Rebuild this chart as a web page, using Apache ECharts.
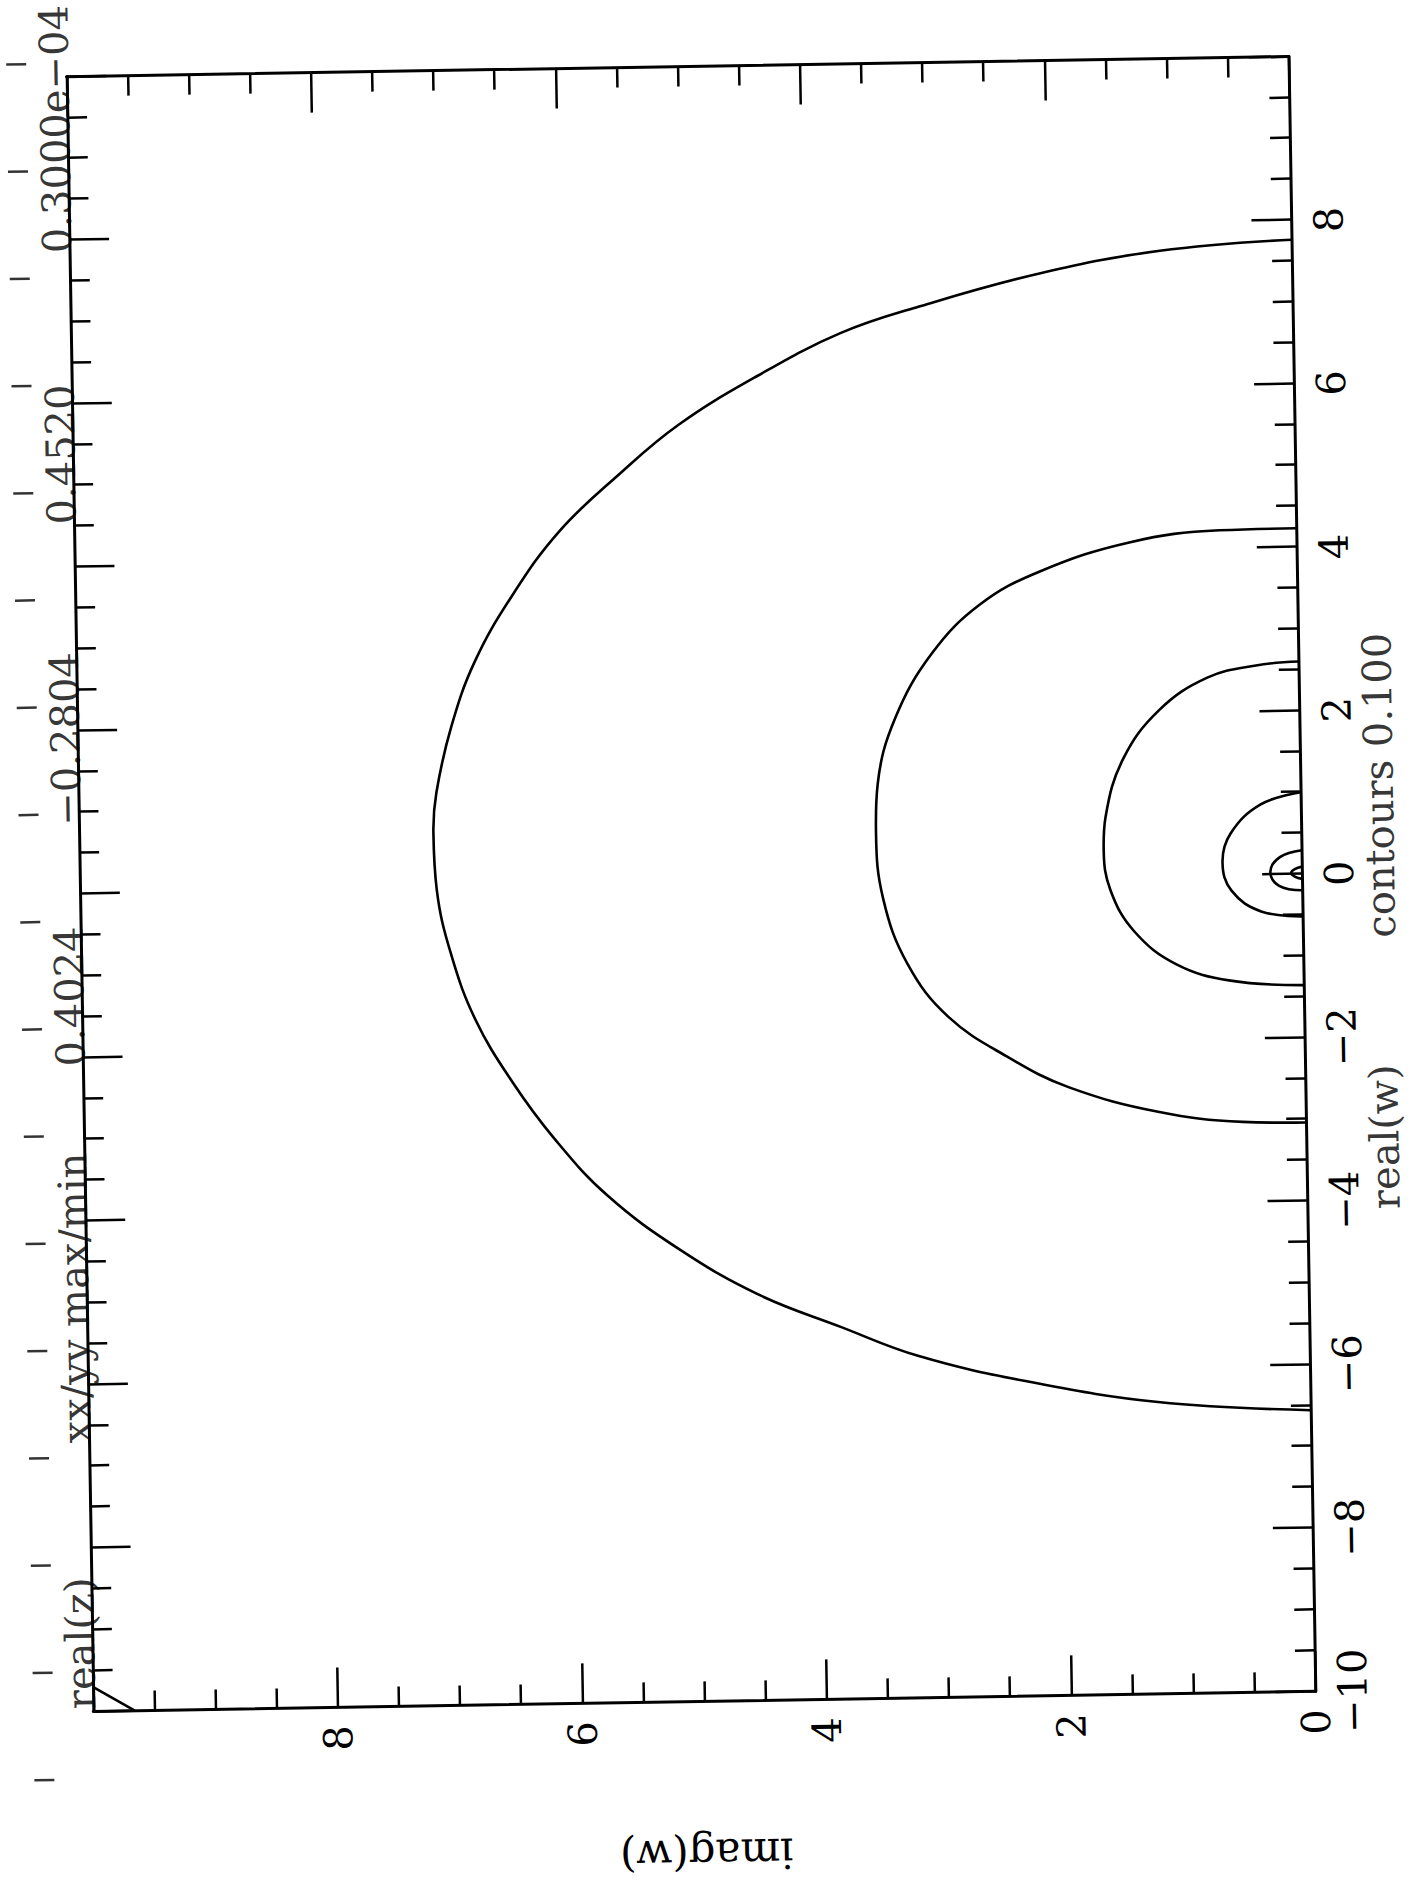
<!DOCTYPE html>
<html>
<head>
<meta charset="utf-8">
<script src="https://cdn.jsdelivr.net/npm/echarts@6/dist/echarts.min.js"></script>
<style>
html,body{margin:0;padding:0;width:1416px;height:1881px;overflow:hidden;background:#fff;}
#chart{position:absolute;width:2000px;height:1600px;left:-308.75px;top:84px;transform-origin:1000px 800px;transform:rotate(-90.94deg);}
</style>
</head>
<body>
<div id="chart"></div>
<script>
// ---------- data (real(w), imag(w)) ----------
const realTickValues = [-10, -8, -6, -4, -2, 0, 2, 4, 6, 8];
const realTickLabels = ['\u221210', '\u22128', '\u22126', '\u22124', '\u22122', '0', '2', '4', '6', '8'];
const imagTickValues = [0, 2, 4, 6, 8];
const imagTickLabels = ['0', '2', '4', '6', '8'];

const contourA = [[7.76,0],[7.65,1.08],[7.40,2.06],[7.02,3.05],[6.71,3.70],[6.20,4.39],[5.62,5.04],[5.03,5.53],[4.34,6.03],[3.55,6.43],[2.76,6.74],[1.97,6.94],[1.17,7.07],[0.68,7.10],[-0.02,7.08],[-0.82,6.97],[-1.62,6.78],[-2.38,6.49],[-3.09,6.15],[-3.80,5.72],[-4.47,5.14],[-5.03,4.51],[-5.45,3.83],[-5.82,3.20],[-6.15,2.32],[-6.43,1.25],[-6.56,0]];
const contourB = [[4.23,0],[4.22,0.63],[4.09,1.37],[3.75,2.11],[3.36,2.60],[2.77,3.00],[1.98,3.31],[1.18,3.46],[0.59,3.48],[-0.22,3.43],[-1.02,3.24],[-1.68,2.91],[-2.19,2.42],[-2.56,1.94],[-2.88,1.21],[-3.02,0.52],[-3.04,0]];
const contourC = [[2.60,0],[2.56,0.35],[2.42,0.75],[2.03,1.15],[1.44,1.45],[0.74,1.60],[0.34,1.62],[-0.16,1.57],[-0.67,1.38],[-1.08,1.04],[-1.29,0.60],[-1.36,0]];
const contourD = [[1.00,0],[0.86,0.33],[0.51,0.58],[0.16,0.65],[-0.19,0.58],[-0.45,0.34],[-0.52,0]];
const contourE = [[0.29,0],[0.21,0.18],[0.03,0.26],[-0.14,0.19],[-0.20,0]];
const contourF = [[0.09,0],[0.06,0.06],[0.015,0.09],[-0.03,0.06],[-0.06,0]];
const cornerLine = [[-9.70,10],[-10,9.66]];

const headerTexts = ['real(z)', 'xx/yy max/min', '0.4024', '\u22120.2804', '0.4520', '0.3000e\u221204'];
const headerAt = [-9.97, -4.94, -1.25, 1.90, 5.38, 9.36];
const footerTexts = ['real(w)', 'contours 0.100'];
const footerAt = [-3.23, 1.07];

// outer row of short marks above the frame (index along their own scale)
const zMarks = [0, 1, 2, 3, 4, 5, 6, 7, 8, 9, 10, 11, 12, 13, 14, 15, 16];
const zRange = [-10.83, 10.16];  // span of the outer marks in real(w) units

// ---------- layout ----------
const FONT = 'DejaVu Serif';
const realMin = -10, realMax = 10, imagMin = 0, imagMax = 10;
const gridL = 182.5, gridR = 182.5, gridT = 188.75, gridB = 188.75;
const plotW = 2000 - gridL - gridR;
const pxPerUnit = plotW / (realMax - realMin);
const grid2L = gridL + (zRange[0] - realMin) * pxPerUnit;
const grid2R = gridR - (zRange[1] - realMax) * pxPerUnit;

const black = '#000';
const tickStyle = {color: black, width: 2.5};
const lineW = 2.6;

function lookup(vals, labels) {
  return function (v) {
    const i = vals.indexOf(Math.round(v * 1000) / 1000);
    return i < 0 ? '' : labels[i];
  };
}

const chart = echarts.init(document.getElementById('chart'), null, {renderer: 'svg'});

const contourSeries = [contourA, contourB, contourC, contourD, contourE, contourF].map(d => ({
  type: 'line', data: d, smooth: 0.4, showSymbol: false, silent: true,
  lineStyle: {color: black, width: lineW}, xAxisIndex: 0, yAxisIndex: 0
}));

const option = {
  animation: false,
  backgroundColor: '#fff',
  grid: [
    {left: gridL, right: gridR, top: gridT, bottom: gridB, containLabel: false},
    {left: grid2L, right: grid2R, top: gridT - 60, height: 20, containLabel: false}
  ],
  xAxis: [
    {
      type: 'value', gridIndex: 0, position: 'bottom', min: realMin, max: realMax, interval: 2,
      axisLine: {show: true, onZero: false, lineStyle: {color: black, width: 3}},
      axisTick: {show: true, inside: true, length: 40, lineStyle: tickStyle},
      minorTick: {show: true, splitNumber: 4, length: 20, lineStyle: tickStyle},
      splitLine: {show: false}, minorSplitLine: {show: false},
      axisLabel: {show: true, margin: 17, color: black, fontFamily: FONT, fontSize: 40,
        showMinLabel: true, showMaxLabel: true,
        formatter: lookup(realTickValues, realTickLabels)}
    },
    {
      type: 'value', gridIndex: 0, position: 'top', min: realMin, max: realMax, interval: 2,
      axisLine: {show: true, onZero: false, lineStyle: {color: black, width: 3}},
      axisTick: {show: true, inside: true, length: 40, lineStyle: tickStyle},
      minorTick: {show: true, splitNumber: 4, length: 20, lineStyle: tickStyle},
      splitLine: {show: false}, axisLabel: {show: false}
    },
    {
      type: 'value', gridIndex: 1, min: 0, max: 16, show: false
    }
  ],
  yAxis: [
    {
      type: 'value', gridIndex: 0, position: 'left', min: imagMin, max: imagMax, interval: 2,
      axisLine: {show: true, onZero: false, lineStyle: {color: black, width: 3}},
      axisTick: {show: true, inside: true, length: 40, lineStyle: tickStyle},
      minorTick: {show: true, splitNumber: 4, length: 20, lineStyle: tickStyle},
      splitLine: {show: false},
      axisLabel: {show: true, margin: 18, color: black, fontFamily: FONT, fontSize: 40,
        showMinLabel: true, showMaxLabel: true,
        formatter: lookup(imagTickValues, imagTickLabels)},
      name: 'imag(w)', nameLocation: 'middle', nameRotate: 90, nameGap: 132,
      nameTextStyle: {color: black, fontFamily: FONT, fontSize: 42}
    },
    {
      type: 'value', gridIndex: 0, position: 'right', min: imagMin, max: imagMax, interval: 2,
      axisLine: {show: true, onZero: false, lineStyle: {color: black, width: 3}},
      axisTick: {show: true, inside: true, length: 40, lineStyle: tickStyle},
      minorTick: {show: true, splitNumber: 4, length: 20, lineStyle: tickStyle},
      splitLine: {show: false}, axisLabel: {show: false}
    },
    {
      type: 'value', gridIndex: 1, min: 0, max: 1, show: false
    }
  ],
  series: contourSeries.concat([
    {
      type: 'line', data: cornerLine, smooth: false, showSymbol: false, silent: true,
      lineStyle: {color: black, width: lineW}, xAxisIndex: 0, yAxisIndex: 0
    },
    {
      type: 'scatter', xAxisIndex: 2, yAxisIndex: 2, silent: true, clip: false,
      symbol: 'rect', symbolSize: [2.5, 20],
      itemStyle: {color: black},
      data: zMarks.map(i => [i, 0.5])
    },
    {
      type: 'scatter', xAxisIndex: 0, yAxisIndex: 0, symbolSize: 0, silent: true, clip: false,
      data: headerAt.map((x, i) => ({
        value: [x, imagMax],
        label: {formatter: headerTexts[i], align: i === 0 ? 'left' : 'center'}
      })),
      label: {show: true, position: 'top', distance: 0, offset: [0, 8],
        color: black, fontFamily: FONT, fontSize: 40}
    },
    {
      type: 'scatter', xAxisIndex: 0, yAxisIndex: 0, symbolSize: 0, silent: true, clip: false,
      data: footerAt.map((x, i) => ({
        value: [x, imagMin],
        label: {formatter: footerTexts[i]}
      })),
      label: {show: true, position: 'bottom', distance: 58,
        color: black, fontFamily: FONT, fontSize: 40}
    }
  ])
};

chart.setOption(option);
</script>
</body>
</html>
